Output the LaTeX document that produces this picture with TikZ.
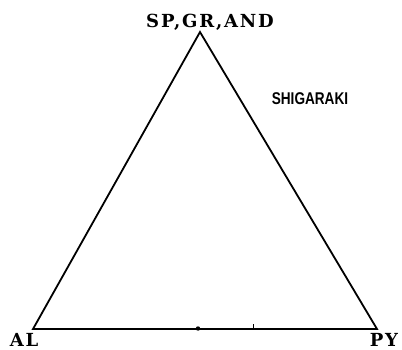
\documentclass[tikz,border=0pt]{standalone}
\usepackage{fontspec}
\setmainfont{Liberation Serif}
\newfontfamily\lsans{Liberation Sans}
\newfontfamily\wideserif[LetterSpace=10]{DejaVu Serif}
\begin{document}
\begin{tikzpicture}[x=1pt,y=-1pt,
  edge/.style={line width=1.8pt, line join=miter},
  vlabel/.style={font=\wideserif\fontsize{18}{18}\selectfont\bfseries, inner sep=0pt, anchor=base},
]
\useasboundingbox (0,0) rectangle (402,349);
\coordinate (top) at (200,32);
\coordinate (al) at (33,329);
\coordinate (py) at (377,329);
\draw[edge] (al) -- (top) -- (py) -- cycle;
\fill (198,328.5) circle (2.2pt);
\draw[line width=1pt] (253,329) -- (253,324);
\node[vlabel] (lt) at (210,27) {SP,GR,AND};
\node[vlabel] (lal) at (24,346) {AL};
\node[vlabel] (lpy) at (384,346) {PY};
\node[inner sep=0pt, anchor=base, xscale=0.8, font=\lsans\fontsize{17}{17}\selectfont\bfseries] (sh) at (310,104) {SHIGARAKI};
\end{tikzpicture}
\end{document}
